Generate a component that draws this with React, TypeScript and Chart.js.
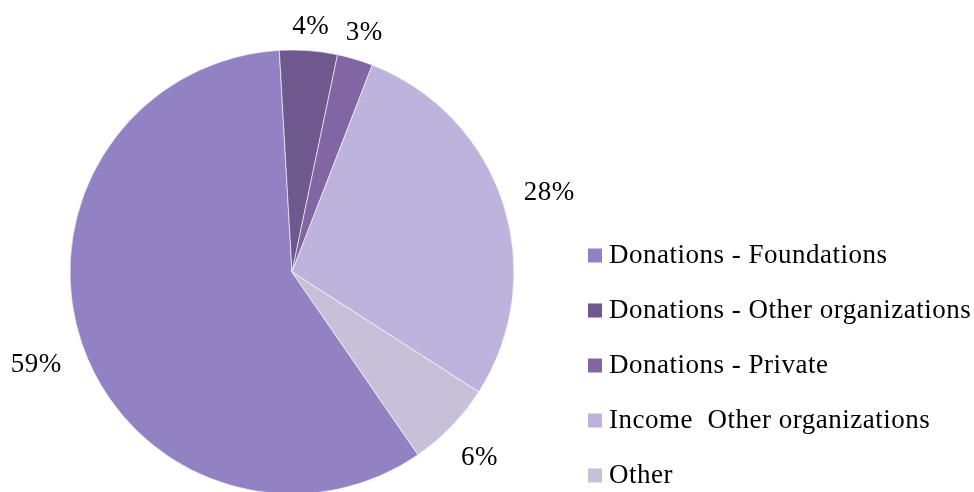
import React, { useEffect, useRef } from "react";
import { Chart, registerables } from "chart.js";

Chart.register(...registerables);

const categories = [
  "Donations - Foundations",
  "Donations - Other organizations",
  "Donations - Private",
  "Income  Other organizations",
  "Other",
];
const shares = [58.7, 4.2, 2.6, 28.2, 6.3];
const sliceColors = ["#9382C3", "#6F588E", "#8266A4", "#BDB3DC", "#C8C0D8"];

const FONT_SIZE = 27;
const FONT = `${FONT_SIZE}px "Liberation Serif", "Times New Roman", serif`;
const SPACING = "0.5px";

const labelPlugin = {
  id: "outsideLabels",
  afterDatasetsDraw(chart: any) {
    const ctx = chart.ctx;
    const meta = chart.getDatasetMeta(0);
    const data = chart.data.datasets[0].data as number[];
    ctx.save();
    ctx.font = FONT;
    (ctx as any).letterSpacing = SPACING;
    ctx.fillStyle = "#000";
    ctx.textAlign = "center";
    ctx.textBaseline = "alphabetic";
    const capHalf = FONT_SIZE * 0.66 / 2 + 3;
    meta.data.forEach((arc: any, i: number) => {
      const p = arc.getProps(["x", "y", "startAngle", "endAngle", "outerRadius"], true);
      const mid = (p.startAngle + p.endAngle) / 2;
      const c = Math.cos(mid);
      const s = Math.sin(mid);
      const text = Math.round(data[i]) + "%";
      const w = ctx.measureText(text).width;
      const dist = p.outerRadius + 23 + Math.abs(c) * w / 2 + Math.abs(s) * 4;
      ctx.fillText(text, p.x + c * dist, p.y + s * dist + capHalf);
    });
    ctx.restore();
  },
};

const legendPlugin = {
  id: "sideLegend",
  afterDraw(chart: any) {
    const ctx = chart.ctx;
    const labels = chart.options.plugins.legend.labels.generateLabels(chart);
    ctx.save();
    ctx.font = FONT;
    (ctx as any).letterSpacing = SPACING;
    ctx.textAlign = "left";
    ctx.textBaseline = "alphabetic";
    const x0 = 588;
    const y0 = 263;
    const rowGap = 55;
    labels.forEach((l: any, i: number) => {
      const base = y0 + i * rowGap;
      ctx.fillStyle = l.fillStyle;
      ctx.fillRect(x0, base - 14.5, 14, 14);
      ctx.fillStyle = "#000";
      ctx.fillText(l.text, x0 + 21, base);
    });
    ctx.restore();
  },
};

export default function App() {
  const ref = useRef<HTMLCanvasElement | null>(null);
  useEffect(() => {
    if (!ref.current) return;
    const chart = new Chart(ref.current, {
      type: "pie",
      data: {
        labels: categories,
        datasets: [
          {
            data: shares,
            backgroundColor: sliceColors,
            borderColor: "rgba(255,255,255,0.8)",
            borderWidth: 0.75,
            radius: 222,
            clip: false as any,
          } as any,
        ],
      },
      options: {
        responsive: false,
        animation: false,
        rotation: 145.4,
        layout: { padding: { left: 62, right: 452, top: 52, bottom: 0 } },
        plugins: {
          legend: { display: false },
          tooltip: { enabled: false },
        },
      },
      plugins: [labelPlugin, legendPlugin],
    });
    return () => chart.destroy();
  }, []);
  return (
    <div style={{ position: "absolute", left: 0, top: 0, width: 974, height: 492, background: "#fff" }}>
      <canvas ref={ref} width={974} height={492} style={{ width: 974, height: 492 }} />
    </div>
  );
}
